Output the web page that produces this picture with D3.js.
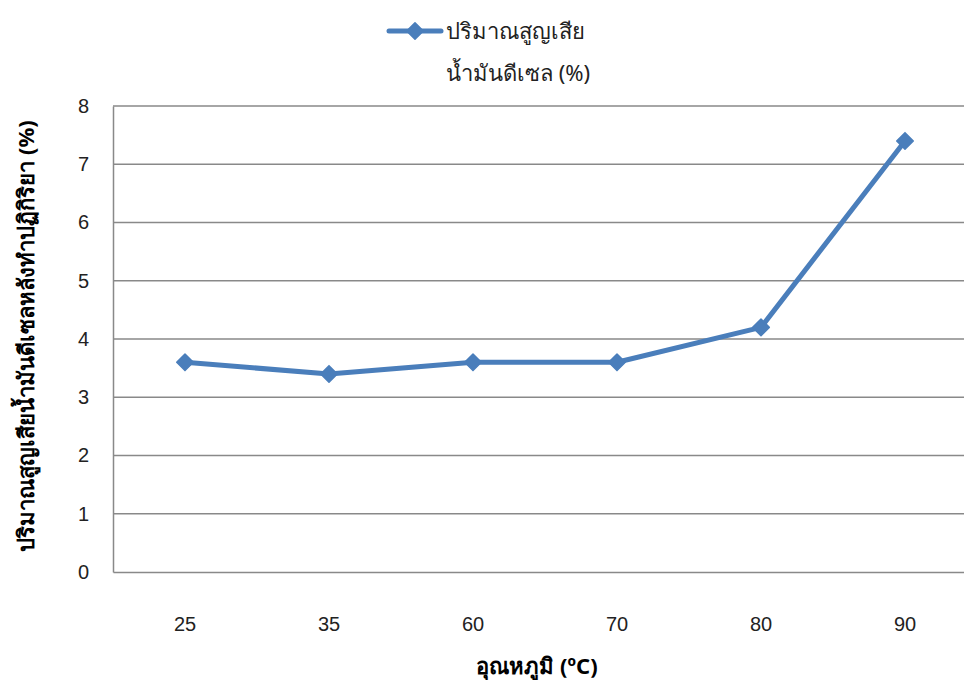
<!DOCTYPE html>
<html>
<head>
<meta charset="utf-8">
<script src="https://cdn.jsdelivr.net/npm/d3@7"></script>
<style>
  body { margin: 0; background: #fff; }
  svg { display: block; font-family: "Noto Sans", "DejaVu Sans", sans-serif; }
</style>
</head>
<body>
<div id="chart"></div>
<script>
// datos del gráfico
const temperatures = ["25", "35", "60", "70", "80", "90"];
const lossValues = [3.6, 3.4, 3.6, 3.6, 4.2, 7.4];
const yTicks = [0, 1, 2, 3, 4, 5, 6, 7, 8];
const seriesName = ["ปริมาณสูญเสีย", "น้ำมันดีเซล (%)"];
const xTitle = "อุณหภูมิ (ºC)";
const yTitle = "ปริมาณสูญเสียน้ำมันดีเซลหลังทำปฏิกิริยา (%)";

const W = 964, H = 680;
const color = "#4a7ebb";

const svg = d3.select("#chart").append("svg")
    .attr("width", W)
    .attr("height", H);

// escalas
const x = d3.scaleBand()
    .domain(temperatures)
    .range([113, 977]);

const y = d3.scaleLinear()
    .domain([0, 8])
    .range([572, 106]);

// rejilla
svg.append("g")
    .selectAll("line")
    .data(yTicks.filter(d => d > 0))
    .enter().append("line")
    .attr("x1", 113).attr("x2", W)
    .attr("y1", d => y(d)).attr("y2", d => y(d))
    .attr("stroke", "#898989")
    .attr("stroke-width", 1.5);

// eje Y
const yAxis = svg.append("g")
    .attr("transform", "translate(113,0)")
    .call(d3.axisLeft(y).tickValues(yTicks).tickSize(0).tickPadding(24));
yAxis.select(".domain").attr("stroke", "#898989").attr("stroke-width", 1.5);
yAxis.selectAll("text").attr("font-size", 20).attr("fill", "#222");

// eje X
const xAxis = svg.append("g")
    .attr("transform", "translate(0,572)")
    .call(d3.axisBottom(x).tickSize(0).tickPadding(45));
xAxis.select(".domain").attr("stroke", "#898989").attr("stroke-width", 1.5);
xAxis.selectAll("text").attr("font-size", 20).attr("fill", "#222");

// títulos
svg.append("text")
    .attr("x", 537).attr("y", 674)
    .attr("text-anchor", "middle")
    .attr("font-size", 22).attr("font-weight", "bold")
    .text(xTitle);

svg.append("text")
    .attr("transform", "translate(34,336) rotate(-90)")
    .attr("text-anchor", "middle")
    .attr("font-size", 22).attr("font-weight", "bold")
    .text(yTitle);

// línea
const pts = temperatures.map((t, i) => ({ t: t, v: lossValues[i] }));
const line = d3.line()
    .x(d => x(d.t) + x.bandwidth() / 2)
    .y(d => y(d.v));

svg.append("path")
    .datum(pts)
    .attr("d", line)
    .attr("fill", "none")
    .attr("stroke", color)
    .attr("stroke-width", 5)
    .attr("stroke-linejoin", "round");

const diamond = d3.symbol().type(d3.symbolDiamond2).size(175);
svg.selectAll(".marker")
    .data(pts)
    .enter().append("path")
    .attr("class", "marker")
    .attr("transform", d => `translate(${x(d.t) + x.bandwidth() / 2},${y(d.v)})`)
    .attr("d", diamond)
    .attr("fill", color)
    .attr("stroke", color)
    .attr("stroke-width", 1.5)
    .attr("stroke-linejoin", "round");

// leyenda
const lg = svg.append("g");
lg.append("line")
    .attr("x1", 389).attr("x2", 441)
    .attr("y1", 31).attr("y2", 31)
    .attr("stroke", color)
    .attr("stroke-width", 5)
    .attr("stroke-linecap", "round");
lg.append("path")
    .attr("transform", "translate(415,31)")
    .attr("d", diamond)
    .attr("fill", color)
    .attr("stroke", color)
    .attr("stroke-width", 1.5)
    .attr("stroke-linejoin", "round");
lg.selectAll("text")
    .data(seriesName)
    .enter().append("text")
    .attr("x", 446)
    .attr("y", (d, i) => 39 + i * 42)
    .attr("font-size", 22)
    .attr("fill", "#222")
    .text(d => d);
</script>
</body>
</html>
